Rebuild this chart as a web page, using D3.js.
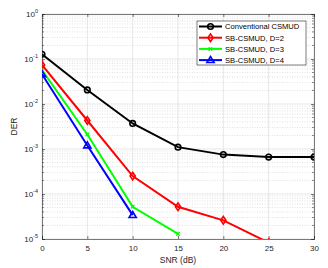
<!DOCTYPE html>
<html>
<head>
<meta charset="utf-8">
<script src="https://cdn.jsdelivr.net/npm/d3@7"></script>
<style>
body { margin: 0; background: #fff; }
svg { display: block; font-family: "Liberation Sans", Arial, sans-serif; }
</style>
</head>
<body>
<div id="vis"></div>
<script>
const width = 328;
const height = 268;

// data
const snr = [0, 5, 10, 15, 20, 25, 30];
const conventional = [0.127, 0.0205, 0.0037, 0.0011, 0.00075, 0.00066, 0.00066];
const sbD2 = [0.0736, 0.0043, 0.00025, 0.000052, 0.000026, 0.0000083];
const sbD3 = [0.057, 0.0021, 0.000052, 0.000013];
const sbD4 = [0.046, 0.0012, 0.000034];
const xTicks = [0, 5, 10, 15, 20, 25, 30];
const yTicks = [1, 0.1, 0.01, 0.001, 0.0001, 0.00001];

const series = [
  {name: "Conventional CSMUD", values: conventional, color: "#000", marker: "circle"},
  {name: "SB-CSMUD, D=2", values: sbD2, color: "#ff0000", marker: "diamond"},
  {name: "SB-CSMUD, D=3", values: sbD3, color: "#00ff00", marker: "x"},
  {name: "SB-CSMUD, D=4", values: sbD4, color: "#0000ff", marker: "triangle"}
];

const margin = {left: 42, right: 14, top: 14, bottom: 29};
const x = d3.scaleLinear().domain([0, 30]).range([margin.left, width - margin.right]);
const y = d3.scaleLog().domain([1e-5, 1]).range([height - margin.bottom, margin.top]);

const svg = d3.select("#vis").append("svg")
    .attr("width", width)
    .attr("height", height);

svg.append("defs").append("clipPath").attr("id", "clip")
  .append("rect")
    .attr("x", margin.left).attr("y", margin.top)
    .attr("width", x(30) - x(0)).attr("height", y(1e-5) - y(1));

// minor grid (dotted)
const minor = [];
for (let e = -5; e < 0; e++) for (let m = 2; m <= 9; m++) minor.push(m * Math.pow(10, e));
svg.append("g")
  .selectAll("line")
  .data(minor)
  .join("line")
    .attr("x1", x(0)).attr("x2", x(30))
    .attr("y1", d => y(d)).attr("y2", d => y(d))
    .attr("stroke", "#ccc").attr("stroke-width", 0.6)
    .attr("stroke-dasharray", "1,1.5");

// major grid
svg.append("g")
  .selectAll("line")
  .data(yTicks)
  .join("line")
    .attr("x1", x(0)).attr("x2", x(30))
    .attr("y1", d => y(d)).attr("y2", d => y(d))
    .attr("stroke", "#ddd").attr("stroke-width", 0.7);
svg.append("g")
  .selectAll("line")
  .data(xTicks)
  .join("line")
    .attr("x1", d => x(d)).attr("x2", d => x(d))
    .attr("y1", y(1)).attr("y2", y(1e-5))
    .attr("stroke", "#ddd").attr("stroke-width", 0.7);

// axes (ticks inside, MATLAB style)
const axisColor = "#262626";
const xAxis = svg.append("g")
    .attr("transform", `translate(0,${y(1e-5)})`)
    .call(d3.axisBottom(x).tickValues(xTicks).tickSize(-3).tickPadding(6));
const xAxisTop = svg.append("g")
    .attr("transform", `translate(0,${y(1)})`)
    .call(d3.axisTop(x).tickValues(xTicks).tickSize(-3).tickFormat(""));
const yAxis = svg.append("g")
    .attr("transform", `translate(${x(0)},0)`)
    .call(d3.axisLeft(y).tickValues(yTicks).tickSize(-3).tickPadding(5).tickFormat(""));
const yAxisRight = svg.append("g")
    .attr("transform", `translate(${x(30)},0)`)
    .call(d3.axisRight(y).tickValues(yTicks).tickSize(-3).tickFormat(""));
// minor ticks on y axes
[[x(0), 2], [x(30), -2]].forEach(([px, len]) => {
  svg.append("g").selectAll("line").data(minor).join("line")
    .attr("x1", px).attr("x2", px + len)
    .attr("y1", d => y(d)).attr("y2", d => y(d))
    .attr("stroke", axisColor).attr("stroke-width", 0.5);
});

[xAxis, xAxisTop, yAxis, yAxisRight].forEach(g => {
  g.select(".domain").attr("stroke", axisColor).attr("stroke-width", 0.6);
  g.selectAll(".tick line").attr("stroke", axisColor).attr("stroke-width", 0.6);
});
xAxis.selectAll("text").attr("font-size", 8).attr("fill", axisColor)
    .attr("font-family", "Liberation Sans, Arial, sans-serif");

// y tick labels as 10^n
const yLab = svg.append("g").attr("fill", axisColor)
    .attr("font-size", 8);
yTicks.forEach(v => {
  const e = Math.round(Math.log10(v));
  const t = yLab.append("text")
      .attr("x", x(0) - 4)
      .attr("y", y(v) + 3)
      .attr("text-anchor", "end");
  t.append("tspan").text("10");
  t.append("tspan").attr("font-size", 5.5).attr("dy", -4).text(e);
});

// axis titles
svg.append("text")
    .attr("x", (x(0) + x(30)) / 2).attr("y", 263)
    .attr("text-anchor", "middle").attr("font-size", 8.5).attr("fill", axisColor)
    .text("SNR (dB)");
svg.append("text")
    .attr("transform", `translate(17,${(y(1) + y(1e-5)) / 2}) rotate(-90)`)
    .attr("text-anchor", "middle").attr("font-size", 8.5).attr("fill", axisColor)
    .text("DER");

// lines
const line = d3.line().x((d, i) => x(snr[i])).y(d => y(d));
const plot = svg.append("g").attr("clip-path", "url(#clip)");
series.forEach(s => {
  plot.append("path")
      .datum(s.values)
      .attr("fill", "none")
      .attr("stroke", s.color)
      .attr("stroke-width", 2)
      .attr("d", line);
});

function drawMarker(g, type, color, cx, cy) {
  if (type === "circle") {
    g.append("circle").attr("cx", cx).attr("cy", cy).attr("r", 2.8)
      .attr("fill", "none").attr("stroke", color).attr("stroke-width", 1.6);
  } else if (type === "diamond") {
    g.append("path").attr("d", `M${cx},${cy - 3.8}L${cx + 2.6},${cy}L${cx},${cy + 3.8}L${cx - 2.6},${cy}Z`)
      .attr("fill", "none").attr("stroke", color).attr("stroke-width", 1.6);
  } else if (type === "x") {
    g.append("path").attr("d", `M${cx - 1.8},${cy - 1.8}L${cx + 1.8},${cy + 1.8}M${cx - 1.8},${cy + 1.8}L${cx + 1.8},${cy - 1.8}`)
      .attr("stroke", color).attr("stroke-width", 1.3);
  } else if (type === "triangle") {
    g.append("path").attr("d", `M${cx},${cy - 3.6}L${cx + 3.6},${cy + 2.4}L${cx - 3.6},${cy + 2.4}Z`)
      .attr("fill", "none").attr("stroke", color).attr("stroke-width", 1.6);
  }
}

const marks = svg.append("g").attr("clip-path", "url(#clip)");
series.forEach(s => {
  s.values.forEach((v, i) => drawMarker(marks, s.marker, s.color, x(snr[i]), y(v)));
});

// legend
const lg = svg.append("g");
const lx = 197, ly = 21, lw = 109, lh = 44;
lg.append("rect").attr("x", lx).attr("y", ly).attr("width", lw).attr("height", lh)
  .attr("fill", "#fff").attr("stroke", axisColor).attr("stroke-width", 0.6);
series.forEach((s, i) => {
  const cy = ly + 5.5 + i * 11.2;
  lg.append("line").attr("x1", lx + 2).attr("x2", lx + 25)
    .attr("y1", cy).attr("y2", cy)
    .attr("stroke", s.color).attr("stroke-width", 2);
  drawMarker(lg, s.marker, s.color, lx + 13.5, cy);
  lg.append("text").attr("x", lx + 28).attr("y", cy + 2.8)
    .attr("font-size", 7.6).attr("fill", "#000").text(s.name);
});
</script>
</body>
</html>
